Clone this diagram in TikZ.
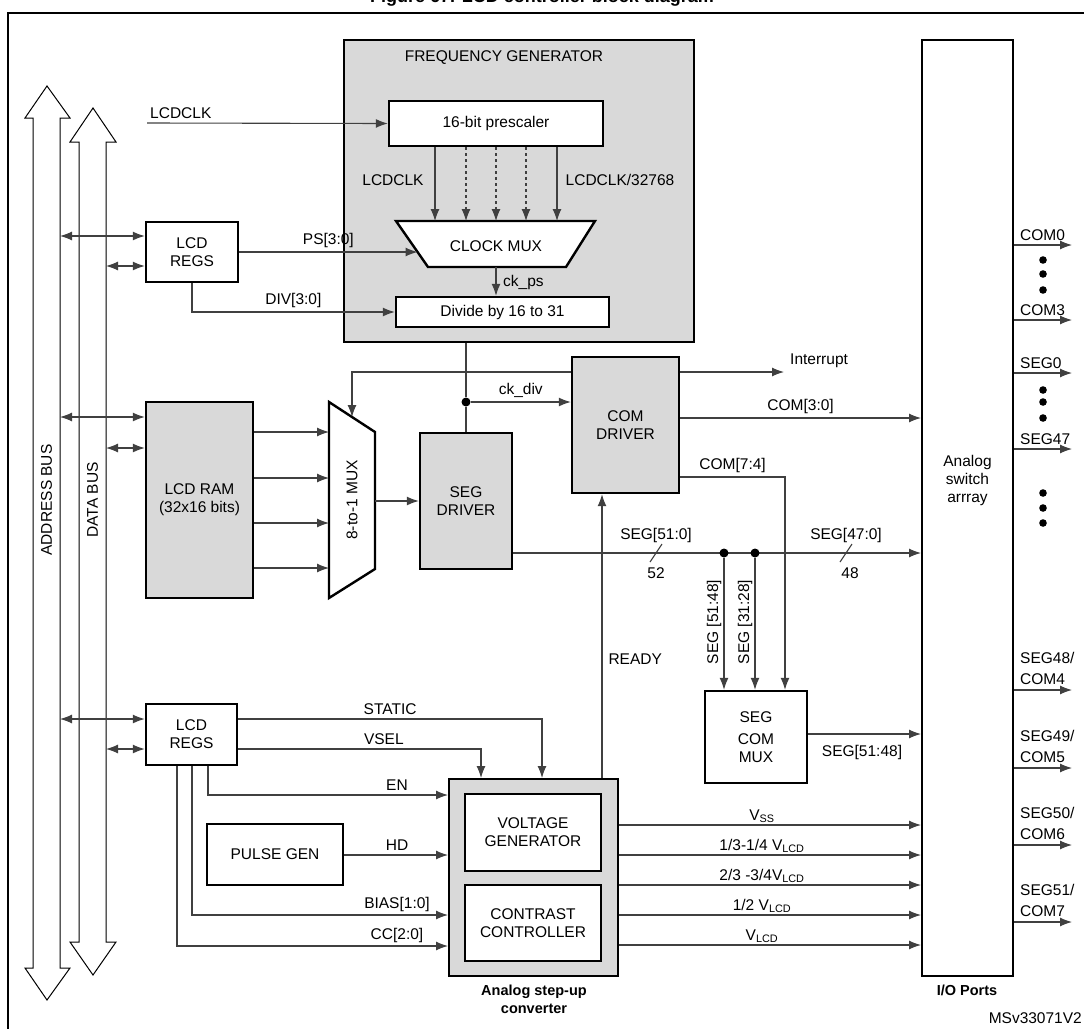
\documentclass[tikz,border=0pt]{standalone}
\usepackage{fontspec}
\setmainfont{Liberation Sans}
\usetikzlibrary{arrows.meta}
\begin{document}
\begin{tikzpicture}[x=1pt,y=-1pt,
  every node/.style={font=\fontsize{15.5}{18}\selectfont, inner sep=0pt},
  blk/.style={draw=black, line width=2.4pt, align=center},
  gblk/.style={blk, fill=gray!30},
  ln/.style={draw=black!75, line width=1.1pt},
  ar/.style={ln, -{Latex[length=12pt,width=9pt]}},
  dar/.style={ln, {Latex[length=12pt,width=9pt]}-{Latex[length=12pt,width=9pt]}},
  dot/.style={fill=black, circle, minimum size=9pt, inner sep=0pt}]
\useasboundingbox (0,0) rectangle (1084,1028);
\node[font=\bfseries\fontsize{18}{20}\selectfont] (title) at (542,-2) {Figure 67. LCD controller block diagram};
\draw[line width=1.8pt] (8,13) rectangle (1095,1040);
% buses
\draw[line width=1pt, fill=white] (33,118) -- (25,118) -- (47,86) -- (70,118) -- (60,118) -- (60,968) -- (70,968) -- (47,1000) -- (25,968) -- (33,968) -- cycle;
\draw[line width=1pt, fill=white] (79,142) -- (70,142) -- (93,108) -- (116,142) -- (106,142) -- (106,942) -- (116,942) -- (93,975) -- (70,942) -- (79,942) -- cycle;
\node[rotate=90] (abus) at (46.5,500) {ADDRESS BUS};
\node[rotate=90] (dbus) at (92.5,500) {DATA BUS};
\coordinate (ab) at (60,0); \coordinate (db) at (106,0);
% frequency generator
\node[gblk, line width=2pt, minimum width=350pt, minimum height=302pt] (fg) at (519,191) {};
\node (fgl) at (504,58) {FREQUENCY GENERATOR};
\node[blk, fill=white, minimum width=214pt, minimum height=45pt] (presc) at (496,123.5) {16-bit prescaler};
\node[blk, fill=white, minimum width=213pt, minimum height=30pt] (div) at (502.5,312) {Divide by 16 to 31};
\draw[blk, fill=white] (396,221) -- (595,221) -- (566,267) -- (428,267) -- cycle;
\node (cmux) at (496,246) {CLOCK MUX};
\coordinate (cmuxin) at (417.5,252);
\coordinate (cmuxout) at (496,267);
\foreach \x/\s in {435/solid,466/dashed,496/dashed,526/dashed,557/solid}
  \draw[ar,\s] (presc.south -| \x,0) -- (\x,221);
\node (l1) at (393,180) {LCDCLK};
\node (l2) at (620,180) {LCDCLK/32768};
\coordinate (lcdclkin) at (147,123);
\node[anchor=south west] (l3) at (150,119) {LCDCLK};
\draw[ar] (lcdclkin) -- (presc.west);
\draw[ar] (cmuxout) -- (div.north -| cmuxout);
\node[anchor=west] (ckps) at (503,282) {ck\_ps};
% LCD regs 1
\node[blk, minimum width=92pt, minimum height=60pt] (regs1) at (192,252) {LCD\\REGS};
\draw[dar] (ab |- 0,236) -- (regs1.west |- 0,236);
\draw[dar] (db |- 0,266) -- (regs1.west |- 0,266);
\draw[ar] (regs1.east |- cmuxin) -- node[above=4pt] (ps) {PS[3:0]} (cmuxin);
\draw[ar] (regs1.south -| 192,0) -- (192,312) -- node[above=4pt] (divl) {DIV[3:0]} (div.west |- 0,312);
% LCD RAM + mux
\node[gblk, minimum width=107pt, minimum height=196pt] (ram) at (199.5,500) {LCD RAM\\(32x16 bits)};
\draw[dar] (ab |- 0,417) -- (ram.west |- 0,417);
\draw[dar] (db |- 0,448) -- (ram.west |- 0,448);
\draw[blk, fill=white] (329,402) -- (375,432) -- (375,569) -- (329,598) -- cycle;
\node[rotate=90] (mux8) at (352,500) {8-to-1 MUX};
\foreach \y in {432,478,523,568} \draw[ar] (ram.east |- 0,\y) -- (329,\y);
\node[gblk, minimum width=92pt, minimum height=136pt] (segd) at (466,501) {SEG\\DRIVER};
\draw[ar] (375,501) -- (segd.west |- 0,501);
\node[gblk, minimum width=107pt, minimum height=136pt] (comd) at (625.5,425) {COM\\DRIVER};
% clock div
\node[dot] (jd) at (466,402) {};
\draw[ln] (fg.south -| jd) -- (jd) -- (segd.north);
\draw[ar] (jd) -- node[above=4pt] (ckdiv) {ck\_div} (comd.west |- jd);
\draw[ar] (comd.west |- 0,372) -- (352,372) -- (352,417);
\coordinate (intr) at (784,372);
\draw[ar] (comd.east |- 0,372) -- (intr);
\node[anchor=west] (intl) at (790,361) {Interrupt};
% analog array
\node[blk, line width=2pt, minimum width=91pt, minimum height=936pt] (arr) at (967.5,508) {};
\node[align=center] (arrl) at (967.5,480) {Analog\\switch\\arrray};
\node[font=\bfseries\fontsize{14.5}{17}\selectfont] (iop) at (967,990) {I/O Ports};
\draw[ar] (comd.east |- 0,418) -- node[above=4pt] (c30) {COM[3:0]} (arr.west |- 0,418);
\draw[ar] (segd.east |- 0,553) -- (arr.west |- 0,553);
\node (s510) at (656,535) {SEG[51:0]};
\node (n52) at (656,573) {52};
\node (s470) at (846,535) {SEG[47:0]};
\node (n48) at (850,573) {48};
\draw[ln] (650,562) -- (662,544);
\draw[ln] (840,562) -- (852,544);
% seg com mux
\node[blk, minimum width=102pt, minimum height=92pt] (scm) at (756,737) {SEG\\[4pt]COM\\MUX};
\node[dot] (j1) at (724,553) {};
\node[dot] (j2) at (755,553) {};
\draw[ar] (j1) -- (j1 |- scm.north);
\draw[ar] (j2) -- (j2 |- scm.north);
\draw[ar] (comd.east |- 0,477) -- node[above=4pt] (c74) {COM[7:4]} (785,477) -- (785,0 |- scm.north);
\node[rotate=90] (sl1) at (714,622) {SEG [51:48]};
\node[rotate=90] (sl2) at (745,622) {SEG [31:28]};
\draw[ar] (scm.east |- 0,734) -- (arr.west |- 0,734);
\node (s5148) at (862,752) {SEG[51:48]};
% converter
\node[gblk, line width=2pt, minimum width=169pt, minimum height=197pt] (conv) at (533.5,877.5) {};
\node[blk, fill=white, minimum width=136pt, minimum height=77pt] (vgen) at (533,832.5) {VOLTAGE\\GENERATOR};
\node[blk, fill=white, minimum width=136pt, minimum height=76pt] (ccon) at (533,923) {CONTRAST\\CONTROLLER};
\node[font=\bfseries\fontsize{14.5}{18}\selectfont, align=center] (convl) at (534,999) {Analog step-up\\converter};
\draw[ar] (conv.north -| 602,0) -- node[pos=0.42, right=6pt] (rdy) {READY} (comd.south -| 602,0);
% regs 2
\node[blk, minimum width=91pt, minimum height=61pt] (regs2) at (191.5,734.5) {LCD\\REGS};
\draw[dar] (ab |- 0,719) -- (regs2.west |- 0,719);
\draw[dar] (db |- 0,749) -- (regs2.west |- 0,749);
\draw[ar] (regs2.east |- 0,719) -- node[pos=0.5, above=4pt] (st) {STATIC} (542,719) -- (conv.north -| 542,0);
\draw[ar] (regs2.east |- 0,749) -- node[pos=0.6, above=4pt] (vs) {VSEL} (481,749) -- (conv.north -| 481,0);
\draw[ar] (regs2.south -| 208,0) -- (208,795) -- (conv.west |- 0,795);
\node (en) at (397,785) {EN};
\node[blk, minimum width=136pt, minimum height=61pt] (pulse) at (275,854.5) {PULSE GEN};
\draw[ar] (pulse.east |- 0,855) -- (conv.west |- 0,855);
\node (hd) at (397,845) {HD};
\draw[ar] (regs2.south -| 192,0) -- (192,915) -- (conv.west |- 0,915);
\node (bias) at (397,904) {BIAS[1:0]};
\draw[ar] (regs2.south -| 177,0) -- (177,946) -- (conv.west |- 0,946);
\node (ccl) at (397,935) {CC[2:0]};
% voltage outputs
\foreach \y/\t in {825/{V\textsubscript{SS}},855/{1/3-1/4 V\textsubscript{LCD}},885/{2/3 -3/4V\textsubscript{LCD}},915/{1/2 V\textsubscript{LCD}},945/{V\textsubscript{LCD}}}{
  \draw[ar] (conv.east |- 0,\y) -- (arr.west |- 0,\y);
  \node[anchor=base] at (762,\y-5) {\t};
}
% right outputs
\foreach \y/\t in {245/COM0,320/COM3,373/SEG0,449/SEG47}{
  \draw[ar] (arr.east |- 0,\y) -- (1072,\y);
  \node[anchor=base west] at (1020,\y-5) {\t};
}
\foreach \y/\a/\b in {690/{SEG48/}/COM4,768/{SEG49/}/COM5,845/{SEG50/}/COM6,922/{SEG51/}/COM7}{
  \draw[ar] (arr.east |- 0,\y) -- (1072,\y);
  \node[anchor=base west] at (1020,\y-27) {\a};
  \node[anchor=base west] at (1020,\y-6) {\b};
}
\foreach \y in {260,274,290,390,402,418,493,508,523}
  \fill (1043,\y) circle (3.8pt);
\node[anchor=east] (ms) at (1082,1018) {MSv33071V2};
\end{tikzpicture}
\end{document}
